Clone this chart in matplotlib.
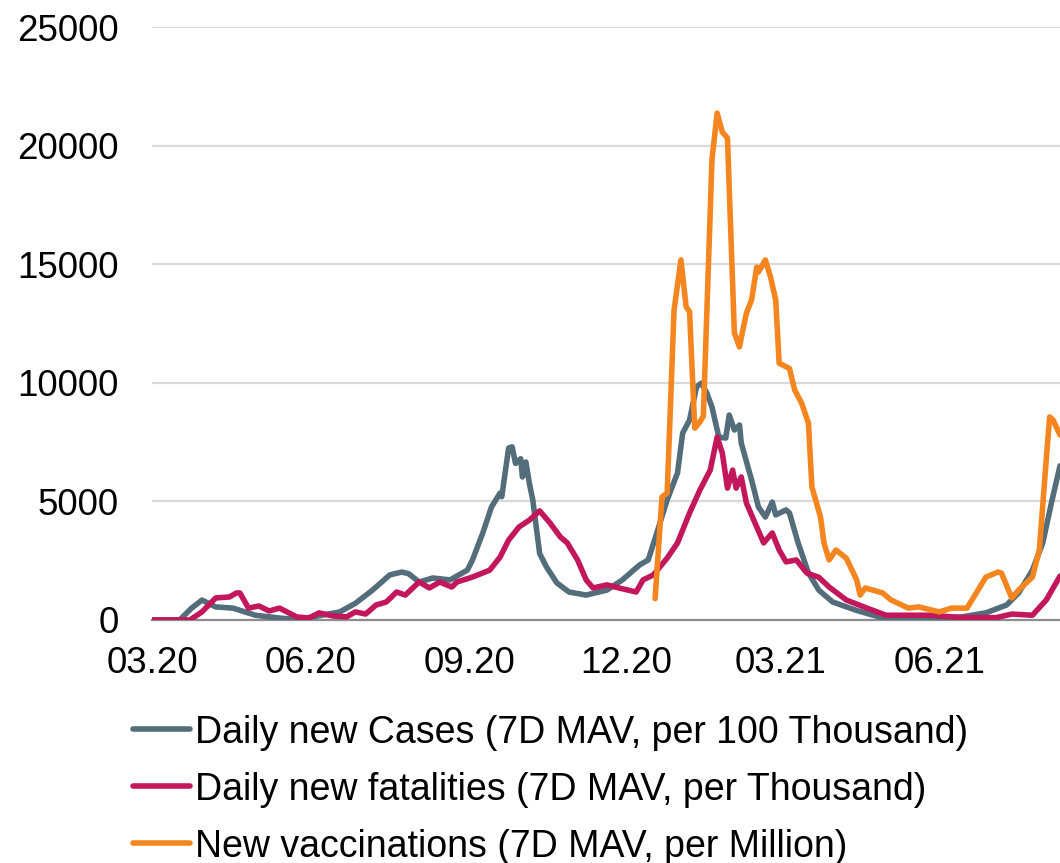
import pandas as pd
import matplotlib.pyplot as plt
import matplotlib.dates as mdates

plt.rcParams['font.family'] = ['Liberation Sans', 'DejaVu Sans']

# ── Data ──────────────────────────────────────────────────────────────────────
cases_dates = [
    '2020-03-01', '2020-03-17', '2020-03-24', '2020-03-30', '2020-04-07', '2020-04-17',
    '2020-04-30', '2020-05-14', '2020-05-25', '2020-06-18', '2020-06-27', '2020-07-07',
    '2020-07-17', '2020-07-24', '2020-07-28', '2020-08-03', '2020-08-11', '2020-08-21',
    '2020-08-31', '2020-09-03', '2020-09-09', '2020-09-14', '2020-09-19', '2020-09-20',
    '2020-09-24', '2020-09-26', '2020-09-28', '2020-10-01', '2020-10-02', '2020-10-04',
    '2020-10-06', '2020-10-08', '2020-10-12', '2020-10-16', '2020-10-22', '2020-10-29',
    '2020-11-08', '2020-11-20', '2020-11-29', '2020-12-09', '2020-12-14', '2020-12-19',
    '2020-12-25', '2020-12-31', '2021-01-03', '2021-01-07', '2021-01-11', '2021-01-14',
    '2021-01-17', '2021-01-20', '2021-01-24', '2021-01-28', '2021-01-30', '2021-02-02',
    '2021-02-05', '2021-02-06', '2021-02-12', '2021-02-16', '2021-02-20', '2021-02-24',
    '2021-02-26', '2021-03-04', '2021-03-06', '2021-03-11', '2021-03-17', '2021-03-23',
    '2021-03-31', '2021-04-14', '2021-04-27', '2021-05-16', '2021-06-14', '2021-06-28',
    '2021-07-10', '2021-07-17', '2021-07-25', '2021-07-31', '2021-08-05', '2021-08-10',
]
cases = [
    0, 0, 500, 840, 550, 500,
    200, 80, 20, 340, 700, 1260,
    1900, 2020, 1950, 1600, 1770, 1690,
    2100, 2530, 3670, 4760, 5350, 5200,
    7250, 7300, 6600, 6800, 6030, 6660,
    5770, 5060, 2800, 2230, 1560, 1180,
    1050, 1260, 1690, 2320, 2530, 3670,
    5060, 6200, 7880, 8430, 9820, 9990,
    9570, 8980, 7710, 7670, 8640, 8010,
    8220, 7460, 5900, 4760, 4340, 4970,
    4430, 4640, 4510, 3250, 1980, 1260,
    760, 400, 130, 30, 130, 300,
    630, 1140, 2100, 3250, 4930, 6500,
]

deaths_dates = [
    '2020-03-01', '2020-03-23', '2020-03-30', '2020-04-07', '2020-04-15', '2020-04-19',
    '2020-04-21', '2020-04-26', '2020-05-02', '2020-05-08', '2020-05-14', '2020-05-24',
    '2020-05-31', '2020-06-06', '2020-06-14', '2020-06-22', '2020-06-27', '2020-07-03',
    '2020-07-09', '2020-07-15', '2020-07-21', '2020-07-26', '2020-08-03', '2020-08-09',
    '2020-08-15', '2020-08-22', '2020-08-25', '2020-09-03', '2020-09-13', '2020-09-19',
    '2020-09-24', '2020-09-30', '2020-10-06', '2020-10-12', '2020-10-18', '2020-10-24',
    '2020-10-28', '2020-11-03', '2020-11-08', '2020-11-12', '2020-11-20', '2020-11-27',
    '2020-12-07', '2020-12-11', '2020-12-17', '2020-12-25', '2020-12-31', '2021-01-07',
    '2021-01-13', '2021-01-19', '2021-01-23', '2021-01-26', '2021-01-29', '2021-02-01',
    '2021-02-03', '2021-02-06', '2021-02-09', '2021-02-15', '2021-02-19', '2021-02-24',
    '2021-02-28', '2021-03-04', '2021-03-10', '2021-03-16', '2021-03-23', '2021-03-29',
    '2021-04-08', '2021-04-20', '2021-05-01', '2021-05-27', '2021-06-14', '2021-07-04',
    '2021-07-13', '2021-07-25', '2021-08-02', '2021-08-10',
]
deaths = [
    0, 0, 340, 930, 970, 1140,
    1140, 500, 590, 380, 500, 130,
    80, 300, 170, 130, 340, 250,
    630, 760, 1180, 1050, 1600, 1350,
    1600, 1390, 1600, 1810, 2100, 2650,
    3370, 3920, 4210, 4600, 4090, 3500,
    3250, 2530, 1690, 1350, 1480, 1350,
    1180, 1690, 1900, 2610, 3250, 4510,
    5480, 6320, 7710, 7040, 5560, 6320,
    5560, 6030, 4930, 3920, 3250, 3670,
    2950, 2450, 2530, 1980, 1800, 1390,
    840, 500, 200, 200, 100, 100,
    250, 200, 840, 1850,
]

vacc_dates = [
    '2020-12-18', '2020-12-22', '2020-12-25', '2020-12-29', '2021-01-02', '2021-01-05',
    '2021-01-07', '2021-01-10', '2021-01-13', '2021-01-15', '2021-01-20', '2021-01-23',
    '2021-01-26', '2021-01-29', '2021-02-02', '2021-02-05', '2021-02-06', '2021-02-09',
    '2021-02-12', '2021-02-15', '2021-02-16', '2021-02-20', '2021-02-23', '2021-02-26',
    '2021-02-28', '2021-03-06', '2021-03-09', '2021-03-13', '2021-03-17', '2021-03-19',
    '2021-03-24', '2021-03-26', '2021-03-29', '2021-04-02', '2021-04-08', '2021-04-14',
    '2021-04-16', '2021-04-19', '2021-04-29', '2021-05-04', '2021-05-14', '2021-05-20',
    '2021-06-01', '2021-06-08', '2021-06-17', '2021-06-21', '2021-06-28', '2021-07-05',
    '2021-07-07', '2021-07-13', '2021-07-17', '2021-07-25', '2021-07-29', '2021-08-02',
    '2021-08-04', '2021-08-06', '2021-08-10',
]
vacc = [
    900, 5190, 5350, 13070, 15180, 13200,
    13000, 8090, 8350, 8600, 19400, 21370,
    20570, 20320, 12100, 11510, 11900, 12940,
    13490, 14880, 14670, 15180, 14460, 13490,
    10830, 10600, 9700, 9150, 8300, 5610,
    4340, 3250, 2530, 2950, 2600, 1690,
    1050, 1350, 1140, 840, 500, 550,
    340, 500, 500, 970, 1810, 2020,
    1980, 930, 1260, 1810, 2950, 6750,
    8560, 8430, 7800,
]

labels = [
    'Daily new Cases (7D MAV, per 100 Thousand)',
    'Daily new fatalities (7D MAV, per Thousand)',
    'New vaccinations (7D MAV, per Million)',
]
colors = ['#546D7A', '#C2185B', '#F5851F']

# ── Figure ────────────────────────────────────────────────────────────────────
fig = plt.figure(figsize=(10.6, 8.63), dpi=100)
ax = fig.add_axes([0.1434, 0.2816, 0.8566, 0.6871])

series = [(cases_dates, cases), (deaths_dates, deaths), (vacc_dates, vacc)]
for (d, v), lab, col in zip(series, labels, colors):
    ax.plot(pd.to_datetime(d), v, color=col, linewidth=4, label=lab,
            solid_joinstyle='round', solid_capstyle='round', zorder=3)

ax.set_xlim(pd.Timestamp('2020-03-01'), pd.Timestamp('2021-08-10'))
ax.set_ylim(0, 25000)
ax.set_yticks(range(0, 25001, 5000))
ax.xaxis.set_major_locator(mdates.MonthLocator(bymonth=[3, 6, 9, 12]))
ax.xaxis.set_major_formatter(mdates.DateFormatter('%m.%y'))

ax.grid(axis='y', color='#d9d9d9', linewidth=1.6)
ax.set_axisbelow(True)
for s in ['left', 'right', 'top']:
    ax.spines[s].set_visible(False)
ax.spines['bottom'].set_color('#8c8c8c')
ax.spines['bottom'].set_linewidth(1.6)
ax.spines['bottom'].set_zorder(2)

ax.tick_params(axis='both', length=0, labelsize=26.5, colors='black')
ax.tick_params(axis='y', pad=24)
ax.tick_params(axis='x', pad=19)

fig.legend(loc='upper left', bbox_to_anchor=(0.1255, 0.172), frameon=False,
           fontsize=27, borderpad=0, borderaxespad=0, handlelength=1.52,
           handletextpad=0.12, labelspacing=0.56)

fig.savefig('out.png', dpi=100)
